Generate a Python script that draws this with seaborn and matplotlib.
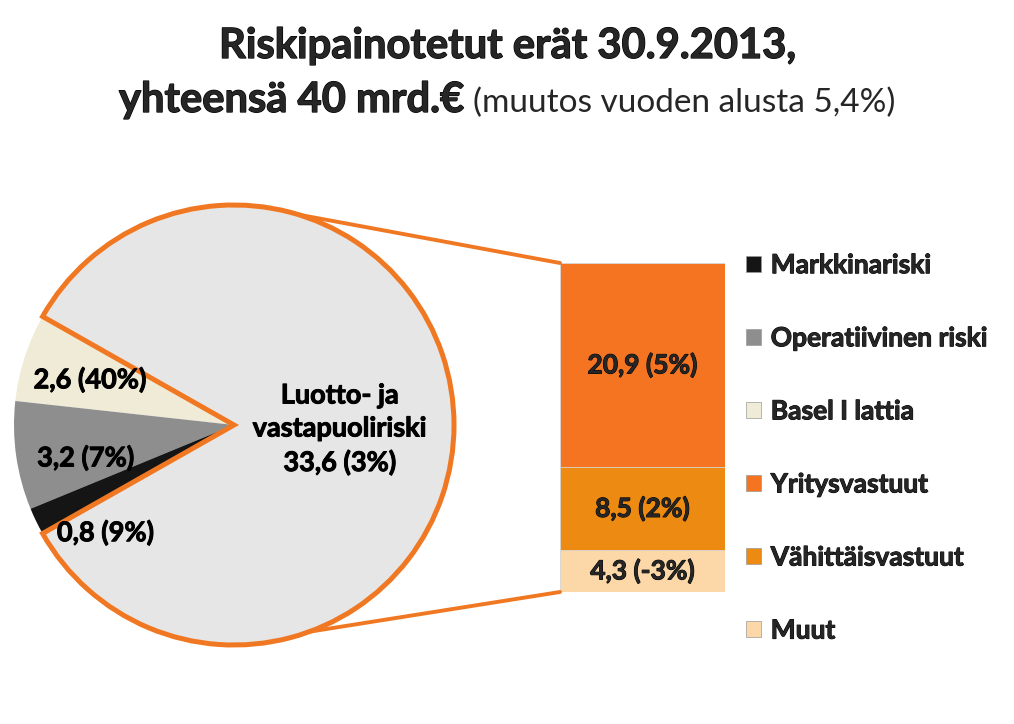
import matplotlib
matplotlib.use("Agg")
import matplotlib.pyplot as plt
import matplotlib.patheffects as pe
from matplotlib.patches import Patch, ConnectionPatch
import numpy as np
import pandas as pd
import seaborn as sns

# pie part (counter-clockwise from the top-left boundary)
pie_labels = ["Basel I lattia", "Operatiivinen riski", "Markkinariski",
              "Luotto- ja\nvastapuoliriski"]
pie_values = [2.6, 3.2, 0.8, 33.6]
pie_changes = ["40%", "7%", "9%", "3%"]

# bar part (bottom to top), split of the big slice
bar_labels = ["Muut", "Vähittäisvastuut", "Yritysvastuut"]
bar_values = [4.3, 8.5, 20.9]
bar_changes = ["-3%", "2%", "5%"]

legend_order = ["Markkinariski", "Operatiivinen riski", "Basel I lattia",
                "Yritysvastuut", "Vähittäisvastuut", "Muut"]

ORANGE = "#F07822"
pie_colors = ["#EFEBD7", "#8E8E8E", "#151515", "#E6E6E6"]
bar_colors = ["#FCD8A8", "#EC8A12", "#F47421"]
BOLD = "bold"
THICK = [pe.withStroke(linewidth=0.7, foreground="black")]

sns.set_theme(style="white")
plt.rcParams["font.family"] = ["Lato", "DejaVu Sans"]

W, H = 1014, 724
fig = plt.figure(figsize=(W / 100, H / 100), dpi=100)


def px_box(x0, y0, x1, y1):
    # pixel box (top-left origin) -> figure fraction rect
    return [x0 / W, 1 - y1 / H, (x1 - x0) / W, (y1 - y0) / H]


def fmt(v):
    return f"{v:.1f}".replace(".", ",")


# ---- pie ----
ax_pie = fig.add_axes(px_box(14, 205, 454, 645))
small = sum(pie_values[:-1])
start = 180 - 360 * small / sum(pie_values) / 2
wedges, _ = ax_pie.pie(pie_values, colors=pie_colors, startangle=start,
                       counterclock=True, radius=1,
                       wedgeprops=dict(linewidth=0))
big = wedges[-1]
big.set_edgecolor(ORANGE)
big.set_linewidth(3.6)
big.set_joinstyle("miter")
for w in wedges:
    w.set_clip_on(False)
ax_pie.set_xlim(-1, 1)
ax_pie.set_ylim(-1, 1)
ax_pie.set_aspect("equal")
ax_pie.axis("off")

pie_text_pos = [(-0.655, 0.205), (-0.675, -0.15), (-0.585, -0.49), (0.48, -0.02)]
for lab, v, ch, (tx, ty) in zip(pie_labels, pie_values, pie_changes, pie_text_pos):
    txt = f"{fmt(v)} ({ch})"
    if v == max(pie_values):
        txt = f"{lab}\n{txt}"
    ax_pie.text(tx, ty, txt, ha="center", va="center", fontsize=19.5,
                fontweight=BOLD, color="black", linespacing=1.45,
                path_effects=THICK)

# ---- stacked bar ----
ax_bar = fig.add_axes(px_box(560, 263, 725, 592))
df = pd.DataFrame({"segment": bar_labels, "value": bar_values})
df["top"] = df["value"].cumsum()
df["bottom"] = df["top"] - df["value"]
for i in reversed(range(len(df))):
    sns.barplot(x=["x"], y=[df["top"].iloc[i]], color=bar_colors[i],
                width=1.0, saturation=1, edgecolor="#D8D8D8", linewidth=0.6,
                ax=ax_bar)
total = df["top"].iloc[-1]
ax_bar.set_xlim(-0.5, 0.5)
ax_bar.set_ylim(0, total)
ax_bar.axis("off")
for _, r in df.iterrows():
    ch = bar_changes[bar_labels.index(r["segment"])]
    ax_bar.text(0, r["bottom"] + r["value"] / 2, f"{fmt(r['value'])} ({ch})",
                ha="center", va="center", fontsize=19, fontweight=BOLD,
                path_effects=THICK)

# ---- connector lines ----
for ang, yb in [(73, total), (-70, 0)]:
    a = np.deg2rad(ang)
    con = ConnectionPatch(xyA=(np.cos(a), np.sin(a)), coordsA=ax_pie.transData,
                          xyB=(-0.5, yb), coordsB=ax_bar.transData,
                          color=ORANGE, lw=2.8)
    fig.add_artist(con)

# ---- legend ----
color_map = dict(zip(pie_labels + bar_labels, pie_colors + bar_colors))
handles = [Patch(facecolor=color_map[k], edgecolor="#9a9a9a", linewidth=0.5)
           for k in legend_order]
leg = fig.legend(handles, legend_order, loc="upper left",
                 bbox_to_anchor=(733 / W, 1 - 240 / H), frameon=False,
                 borderpad=0, handlelength=0.55, handleheight=0.55,
                 handletextpad=0.38, labelspacing=1.86,
                 prop=dict(family="Lato", weight=BOLD, size=19))
for t in leg.get_texts():
    t.set_path_effects(THICK)

# ---- title ----
fig.text(0.5, 1 - 58 / H, "Riskipainotetut erät 30.9.2013,", ha="center",
         va="baseline", fontsize=30, fontweight=BOLD,
         path_effects=[pe.withStroke(linewidth=0.9, foreground="black")])
y2 = 1 - 112 / H
t_bold = fig.text(0, y2, "yhteensä 40 mrd.€", ha="left", va="baseline",
                  fontsize=30, fontweight=BOLD,
                  path_effects=[pe.withStroke(linewidth=0.9, foreground="black")])
t_reg = fig.text(0, y2, "(muutos vuoden alusta 5,4%)", ha="left",
                 va="baseline", fontsize=24)
fig.canvas.draw()
rend = fig.canvas.get_renderer()
wb = t_bold.get_window_extent(rend).width
wr = t_reg.get_window_extent(rend).width
gap = 9
x0 = (W - (wb + gap + wr)) / 2
t_bold.set_x(x0 / W)
t_reg.set_x((x0 + wb + gap) / W)

fig.savefig("out.png", dpi=100)
